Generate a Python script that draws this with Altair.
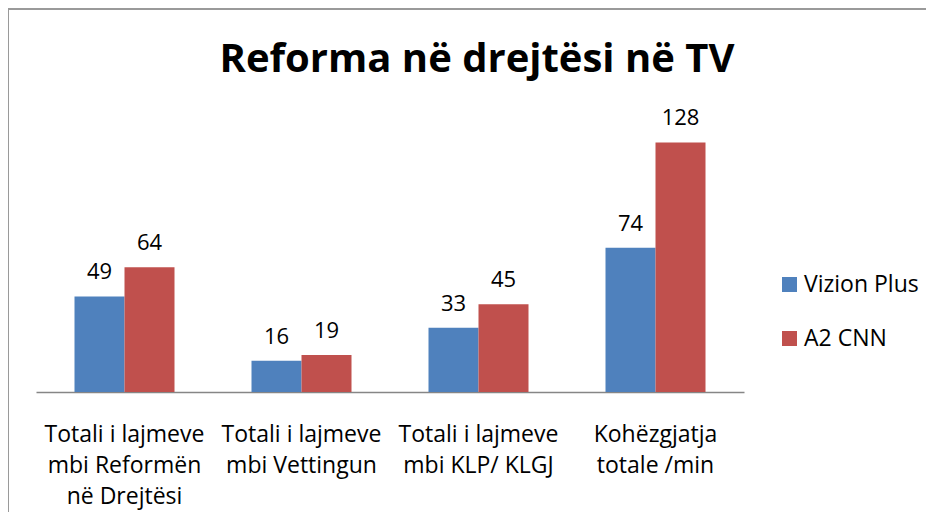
import altair as alt
import pandas as pd

categories = [
    "Totali i lajmeve|mbi Reformën|në Drejtësi",
    "Totali i lajmeve|mbi Vettingun",
    "Totali i lajmeve|mbi KLP/ KLGJ",
    "Kohëzgjatja|totale /min",
]
series = ["Vizion Plus", "A2 CNN"]
vizion_plus = [49, 16, 33, 74]
a2_cnn = [64, 19, 45, 128]
colors = ["#4F81BD", "#C0504D"]

rows = []
for c, v in zip(categories, vizion_plus):
    rows.append({"cat": c, "series": series[0], "value": v})
for c, v in zip(categories, a2_cnn):
    rows.append({"cat": c, "series": series[1], "value": v})
df = pd.DataFrame(rows)

FONT = "Open Sans"

x = alt.X("cat:N", sort=categories, title=None,
          scale=alt.Scale(paddingInner=0.435, paddingOuter=0.2175),
          axis=alt.Axis(labelExpr="split(datum.label, '|')", labelAngle=0,
                        ticks=False, domainColor="#868686", domainWidth=1.5,
                        labelFont=FONT, labelFontSize=23, labelColor="#000000",
                        labelLineHeight=31, labelPadding=31, labelBaseline="top"))
xoff = alt.XOffset("series:N", sort=series, scale=alt.Scale(paddingInner=0, paddingOuter=0))
y = alt.Y("value:Q", scale=alt.Scale(domain=[0, 140]), axis=None)

base = alt.Chart(df)

bars = base.mark_bar().encode(
    x=x, xOffset=xoff, y=y,
    color=alt.Color("series:N", sort=series,
                    scale=alt.Scale(domain=series, range=colors),
                    legend=alt.Legend(title=None, orient="none", legendX=742, legendY=154,
                                      symbolType="square", symbolSize=225,
                                      symbolStrokeWidth=0, labelFont=FONT,
                                      labelFontSize=23, labelColor="#000000",
                                      rowPadding=30, labelOffset=3)),
)

labels = base.mark_text(font=FONT, fontSize=22, color="#000000", baseline="alphabetic",
                        dy=-17).encode(
    x=x, xOffset=xoff, y=y, text=alt.Text("value:Q"),
)

border_top = alt.Chart(pd.DataFrame({"a": [0]})).mark_rule(color="#9a9a9a", strokeWidth=2).encode(
    x=alt.value(-29), x2=alt.value(900), y=alt.value(-110)
)
border_left = alt.Chart(pd.DataFrame({"a": [0]})).mark_rule(color="#9a9a9a", strokeWidth=2).encode(
    x=alt.value(-28), y=alt.value(-111), y2=alt.value(400)
)

chart = alt.layer(bars, labels, border_top, border_left).properties(
    width=708, height=273,
    title=alt.TitleParams("Reforma në drejtësi në TV", font=FONT, fontSize=40,
                          fontWeight="bold", color="#000000", anchor="middle",
                          baseline="alphabetic", dx=87, offset=-105),
    autosize=alt.AutoSizeParams(type="none"),
    padding={"left": 28, "top": 111, "right": 182, "bottom": 120},
).configure_view(stroke=None)

chart.save("out.html", embed_options={"renderer": "svg", "actions": False})
